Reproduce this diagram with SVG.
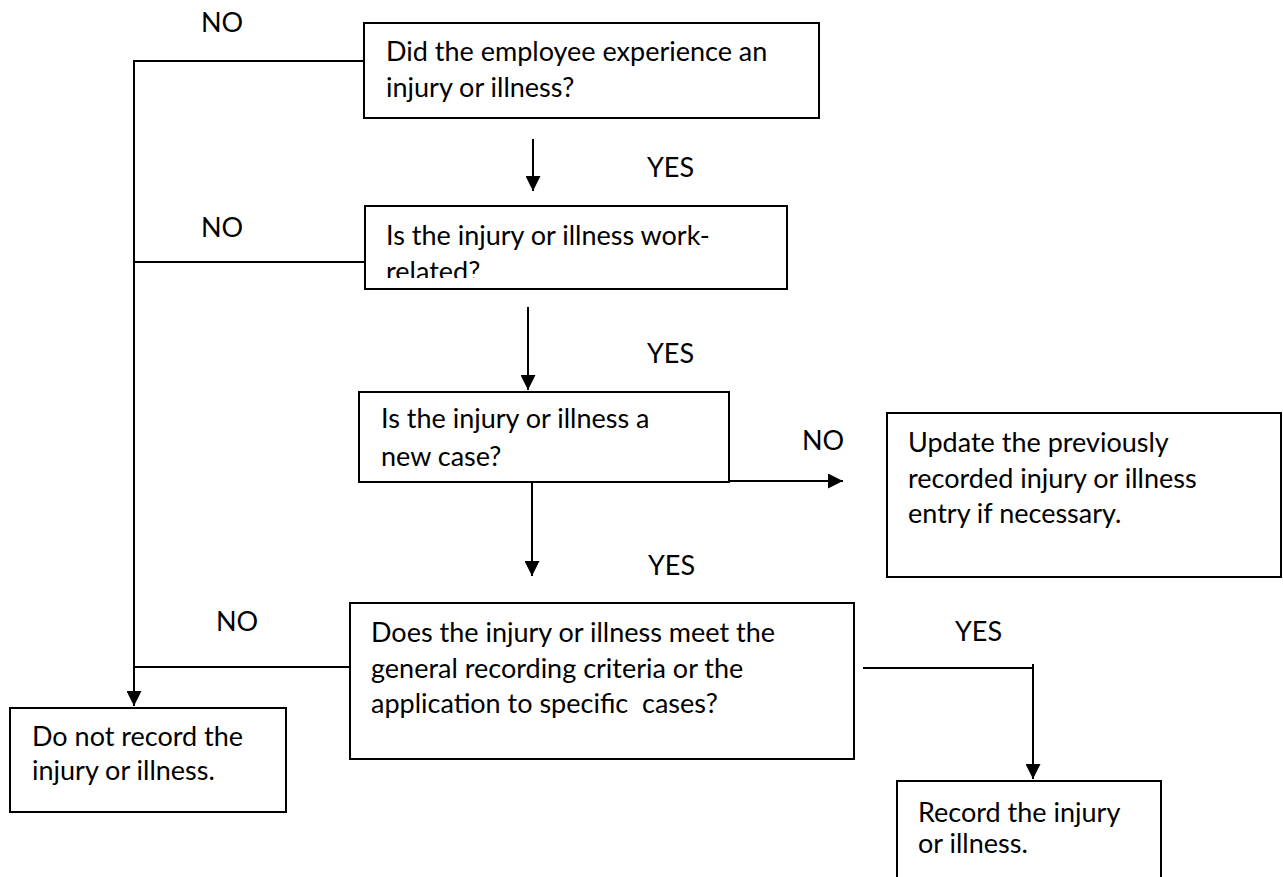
<svg xmlns="http://www.w3.org/2000/svg" width="1283" height="877" viewBox="0 0 1283 877">
<style>
.box{fill:#fff;stroke:#000;stroke-width:2}
.t{font-family:Lato,"Liberation Sans",sans-serif;font-size:27px;fill:#000}
.c{fill:none;stroke:#000;stroke-width:2}
</style>
<defs>
<marker id="ah" viewBox="0 0 10 10" refX="10" refY="5" markerWidth="7.5" markerHeight="7.5" markerUnits="strokeWidth" orient="auto">
<path d="M0,0 L10,5 L0,10 z" fill="#000"/>
</marker>
<clipPath id="clip2"><rect x="364" y="206" width="423" height="72"/></clipPath>
</defs>
<rect width="1283" height="877" fill="#fff"/>
<g id="connectors">
<path class="c" d="M364,61 H134 V706" marker-end="url(#ah)"/>
<path class="c" d="M365,262 H134"/>
<path class="c" d="M350,667 H134"/>
<path class="c" d="M533,139 V191" marker-end="url(#ah)"/>
<path class="c" d="M528,307 V390" marker-end="url(#ah)"/>
<path class="c" d="M532,482 V576" marker-end="url(#ah)"/>
<path class="c" d="M693,481 H843" marker-end="url(#ah)"/>
<path class="c" d="M863,668 H1033 V779" marker-end="url(#ah)"/>
<path class="c" d="M1033,664 V670"/>
</g>
<g id="labels">
<text class="t" x="201" y="32">NO</text>
<text class="t" x="647" y="177">YES</text>
<text class="t" x="201" y="237">NO</text>
<text class="t" x="647" y="363">YES</text>
<text class="t" x="802" y="450">NO</text>
<text class="t" x="648" y="575">YES</text>
<text class="t" x="216" y="631">NO</text>
<text class="t" x="955" y="641">YES</text>
</g>
<g id="q1">
<rect class="box" x="364" y="23" width="455" height="95"/>
<text class="t" x="386" y="61">Did the employee experience an</text>
<text class="t" x="386" y="97">injury or illness?</text>
</g>
<g id="q2">
<rect class="box" x="365" y="206" width="422" height="83"/>
<g clip-path="url(#clip2)">
<text class="t" x="386" y="245">Is the injury or illness work-</text>
<text class="t" x="386" y="281">related?</text>
</g>
</g>
<g id="q3">
<rect class="box" x="359" y="392" width="370" height="90"/>
<text class="t" x="381" y="428">Is the injury or illness a</text>
<text class="t" x="381" y="466">new case?</text>
</g>
<g id="update">
<rect class="box" x="887" y="413" width="394" height="164"/>
<text class="t" x="908" y="452">Update the previously</text>
<text class="t" x="908" y="488">recorded injury or illness</text>
<text class="t" x="908" y="523">entry if necessary.</text>
</g>
<g id="q4">
<rect class="box" x="350" y="603" width="504" height="156"/>
<text class="t" x="371" y="642">Does the injury or illness meet the</text>
<text class="t" x="371" y="678">general recording criteria or the</text>
<text class="t" x="371" y="713" xml:space="preserve">application to specific  cases?</text>
</g>
<g id="norecord">
<rect class="box" x="10" y="708" width="276" height="104"/>
<text class="t" x="32" y="746">Do not record the</text>
<text class="t" x="32" y="780">injury or illness.</text>
</g>
<g id="record">
<path class="box" d="M897,878 V781 H1161 V878"/>
<text class="t" x="918" y="822">Record the injury</text>
<text class="t" x="918" y="853">or illness.</text>
</g>
</svg>
